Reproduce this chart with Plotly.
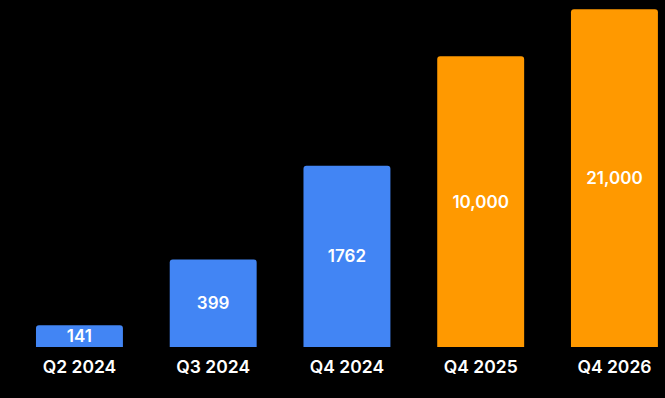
import plotly.graph_objects as go

categories = ["Q2 2024", "Q3 2024", "Q4 2024", "Q4 2025", "Q4 2026"]
values = [141, 399, 1762, 10000, 21000]
labels = ["141", "399", "1762", "10,000", "21,000"]
colors = ["#4285F4", "#4285F4", "#4285F4", "#FF9900", "#FF9900"]

fig = go.Figure(go.Bar(
    x=categories, y=values, text=labels,
    textposition="inside", insidetextanchor="middle", constraintext="none",
    textfont=dict(family="Inter", size=17, color="white", weight=600),
    marker=dict(color=colors, line=dict(width=0)),
    width=0.65, cliponaxis=False, hoverinfo="skip",
))
fig.update_layout(
    width=665, height=398,
    margin=dict(l=0, r=0, t=0, b=51),
    paper_bgcolor="black", plot_bgcolor="black",
    barcornerradius=3,
    showlegend=False,
)
fig.update_xaxes(range=[-0.594, 4.378], showgrid=False, zeroline=False, showline=False,
                 ticks="", tickfont=dict(family="Inter", size=17.5, color="white", weight=600),
                 ticklabelstandoff=7)
fig.update_yaxes(type="log", range=[2, 4.386], visible=False, showgrid=False)
fig.write_html("out.html", config={"displayModeBar": False},
               post_script="document.body.style.margin='0';document.body.style.background='black';")
